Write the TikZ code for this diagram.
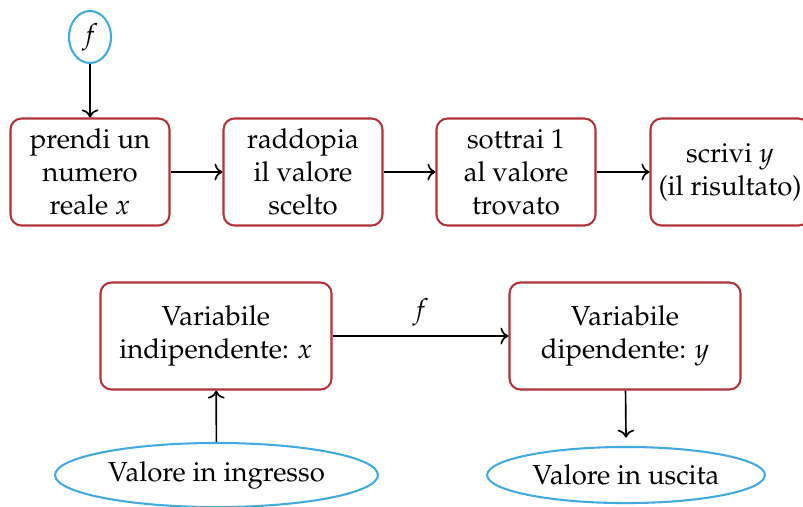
\documentclass[tikz,border=0pt]{standalone}
\usepackage[T1]{fontenc}
\usepackage{mathpazo}
\usepackage{xcolor}
\definecolor{brick}{RGB}{178,50,58}
\definecolor{sky}{RGB}{64,170,225}
\usepackage{tikz}
\usetikzlibrary{arrows.meta,positioning,shapes.geometric}
\tikzset{
  %% rounded boxes for the steps
  passo/.style={draw=brick, line width=0.75pt, rounded corners=4pt,
                minimum width=57.8pt, minimum height=38.9pt,
                align=center, inner sep=2pt},
  %% wide boxes for the variables
  varbox/.style={passo, minimum width=84pt},
  %% blue ellipses
  bolla/.style={draw=sky, line width=0.75pt, ellipse, inner sep=1pt},
  freccia/.style={->, line width=0.6pt},
}
\begin{document}
\begin{tikzpicture}[x=0.3636pt, y=-0.3636pt]
\useasboundingbox (0,0) rectangle (803,506);
%% top row: the steps of f
\node[bolla, minimum width=15.3pt, minimum height=18.9pt] (f) at (90,37) {$f$};
\node[passo] (prendi) at (90,172) {prendi un\\numero\\reale $x$};
\node[passo] (raddoppia) at (303,172) {raddopia\\il valore\\scelto};
\node[passo] (sottrai) at (516,172) {sottrai 1\\al valore\\trovato};
\node[passo] (scrivi) at (730,172) {scrivi $y$\\(il risultato)};
\draw[freccia] (f) -- (prendi);
\draw[freccia] (prendi) -- (raddoppia);
\draw[freccia] (raddoppia) -- (sottrai);
\draw[freccia] (sottrai) -- (scrivi);
%% bottom row: input and output
\node[varbox] (indip) at (216,336) {Variabile\\indipendente: $x$};
\node[varbox] (dip) at (625,336) {Variabile\\dipendente: $y$};
\node[bolla, minimum width=117.4pt, minimum height=23.3pt] (ingresso) at (216.5,475) {Valore in ingresso};
\node[bolla, minimum width=101pt, minimum height=20.4pt] (uscita) at (626,475) {Valore in uscita};
\draw[freccia] (indip) -- node[above] {$f$} (dip);
\draw[freccia] (ingresso) -- (indip);
\draw[freccia] (dip) -- ([yshift=3pt]uscita.north);
\end{tikzpicture}
\end{document}
